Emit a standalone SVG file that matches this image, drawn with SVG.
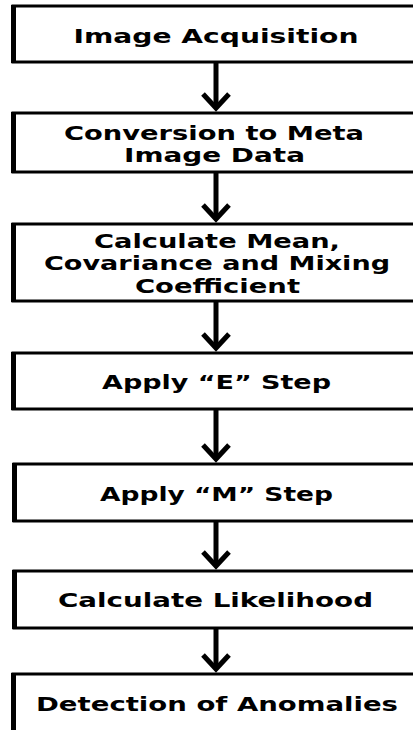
<svg xmlns="http://www.w3.org/2000/svg" width="413" height="730" viewBox="0 0 413 730">
<defs>
<style>
.box{fill:#fff;stroke:#000;stroke-width:3}
.edge{stroke:#000;stroke-width:5}
.t{font-family:"DejaVu Sans","Liberation Sans",sans-serif;font-weight:bold;font-size:20px;fill:#000;text-anchor:middle}
.t2{font-size:19px}
.shaft{stroke:#000;stroke-width:5;fill:none}
.head{stroke:#000;stroke-width:5;fill:none;stroke-linejoin:miter}
</style>
</defs>
<rect width="413" height="730" fill="#fff"/>
<g id="connectors">
<line class="shaft" x1="216" y1="62" x2="216" y2="108"/>
<polyline class="head" points="203,94 216,108 229,94"/>
<line class="shaft" x1="216" y1="172" x2="216" y2="219"/>
<polyline class="head" points="203,205 216,219 229,205"/>
<line class="shaft" x1="216" y1="301" x2="216" y2="348"/>
<polyline class="head" points="203,334 216,348 229,334"/>
<line class="shaft" x1="216" y1="409" x2="216" y2="459"/>
<polyline class="head" points="203,445 216,459 229,445"/>
<line class="shaft" x1="216" y1="521" x2="216" y2="566"/>
<polyline class="head" points="203,552 216,566 229,552"/>
<line class="shaft" x1="216" y1="628" x2="216" y2="669"/>
<polyline class="head" points="203,655 216,669 229,655"/>
</g>
<g id="n1">
<rect class="box" x="13" y="6" width="410" height="56"/>
<line class="edge" x1="13.5" y1="5" x2="13.5" y2="63"/>
<text class="t" x="216" y="43" textLength="285" lengthAdjust="spacingAndGlyphs">Image Acquisition</text>
</g>
<g id="n2">
<rect class="box" x="13" y="113" width="410" height="59"/>
<line class="edge" x1="13.5" y1="112" x2="13.5" y2="173"/>
<text class="t t2" x="214" y="140" textLength="300" lengthAdjust="spacingAndGlyphs">Conversion to Meta</text>
<text class="t t2" x="214.5" y="162" textLength="181" lengthAdjust="spacingAndGlyphs">Image Data</text>
</g>
<g id="n3">
<rect class="box" x="13" y="224" width="410" height="77"/>
<line class="edge" x1="13.5" y1="223" x2="13.5" y2="302"/>
<text class="t" x="217" y="248" textLength="246" lengthAdjust="spacingAndGlyphs">Calculate Mean,</text>
<text class="t" x="217" y="270" textLength="346" lengthAdjust="spacingAndGlyphs">Covariance and Mixing</text>
<text class="t" x="217.5" y="293" textLength="165" lengthAdjust="spacingAndGlyphs">Coefficient</text>
</g>
<g id="n4">
<rect class="box" x="13" y="353" width="410" height="56"/>
<line class="edge" x1="13.5" y1="352" x2="13.5" y2="410"/>
<text class="t" x="216.5" y="389" textLength="229" lengthAdjust="spacingAndGlyphs">Apply “E” Step</text>
</g>
<g id="n5">
<rect class="box" x="14" y="464" width="410" height="57"/>
<line class="edge" x1="14.5" y1="463" x2="14.5" y2="522"/>
<text class="t" x="216.5" y="501" textLength="233" lengthAdjust="spacingAndGlyphs">Apply “M” Step</text>
</g>
<g id="n6">
<rect class="box" x="14" y="571" width="410" height="57"/>
<line class="edge" x1="14.5" y1="570" x2="14.5" y2="629"/>
<text class="t" x="215.5" y="607" textLength="315" lengthAdjust="spacingAndGlyphs">Calculate Likelihood</text>
</g>
<g id="n7">
<rect class="box" x="13" y="674" width="410" height="70"/>
<line class="edge" x1="13.5" y1="673" x2="13.5" y2="731"/>
<text class="t" x="217" y="711" textLength="362" lengthAdjust="spacingAndGlyphs">Detection of Anomalies</text>
</g>
</svg>
